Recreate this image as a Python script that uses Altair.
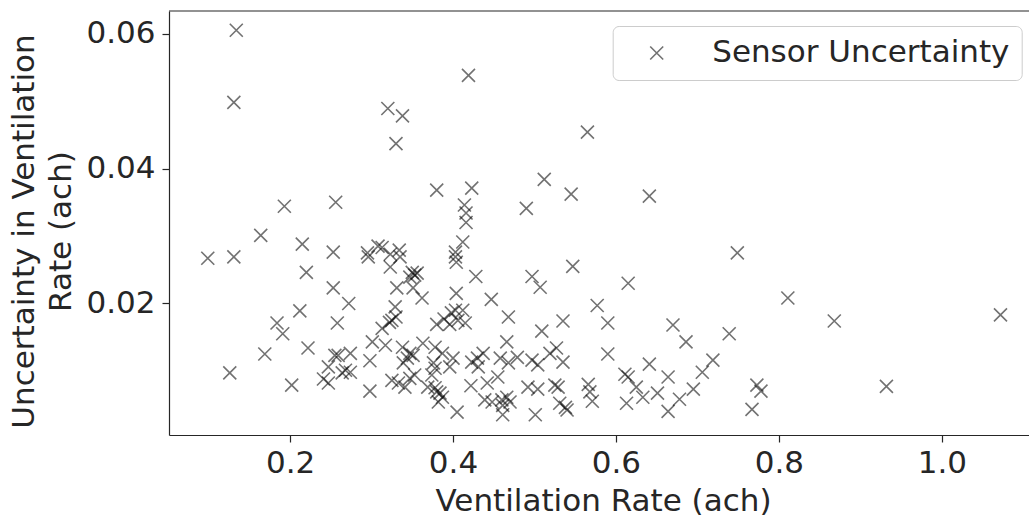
import altair as alt
import pandas as pd

# Ventilation rate (ach) and sensor uncertainty (ach)
vent_rate = [
    0.134, 0.131, 0.320, 0.338, 0.330, 0.380, 0.193, 0.256, 0.419, 0.565,
    0.512, 0.423, 0.545, 0.641, 0.490, 0.414, 0.416, 0.416, 0.412, 0.403,
    0.403, 0.404, 0.428, 0.404, 0.447, 0.497, 0.507, 0.547, 0.615, 0.749,
    0.811, 0.868, 1.072, 0.739, 0.773, 0.778, 0.767, 0.932, 0.577, 0.590,
    0.468, 0.535, 0.509, 0.670, 0.686, 0.590, 0.719, 0.706, 0.641, 0.664,
    0.695, 0.678, 0.664, 0.651, 0.633, 0.625, 0.611, 0.615, 0.613, 0.571,
    0.568, 0.566, 0.531, 0.538, 0.540, 0.525, 0.529, 0.535, 0.527, 0.519,
    0.497, 0.504, 0.492, 0.504, 0.501, 0.458, 0.468, 0.479, 0.466, 0.437,
    0.430, 0.431, 0.423, 0.455, 0.442, 0.422, 0.439, 0.448, 0.460, 0.466,
    0.470, 0.461, 0.461, 0.405,
    0.099, 0.131, 0.164, 0.215, 0.253, 0.220, 0.253, 0.272, 0.212, 0.184,
    0.191, 0.258, 0.222, 0.169, 0.126, 0.202, 0.241, 0.247, 0.247, 0.255,
    0.259, 0.274, 0.268, 0.274, 0.264, 0.298, 0.298, 0.301, 0.295, 0.296,
    0.308, 0.313, 0.323, 0.334, 0.335, 0.323, 0.331, 0.350, 0.353, 0.356,
    0.347, 0.351, 0.362, 0.329, 0.313, 0.322, 0.325, 0.330, 0.380, 0.389,
    0.398, 0.403, 0.412, 0.396, 0.415, 0.406, 0.317, 0.338, 0.347, 0.351,
    0.344, 0.339, 0.363, 0.378, 0.387, 0.400, 0.396, 0.376, 0.378, 0.374,
    0.353, 0.347, 0.325, 0.333, 0.341, 0.369, 0.378, 0.380, 0.384, 0.387,
    0.382,
]
uncertainty = [
    0.0605, 0.0498, 0.0489, 0.0478, 0.0437, 0.0368, 0.0344, 0.0350, 0.0538, 0.0454,
    0.0384, 0.0371, 0.0362, 0.0359, 0.0341, 0.0346, 0.0334, 0.0320, 0.0291, 0.0276,
    0.0269, 0.0261, 0.0240, 0.0215, 0.0206, 0.0240, 0.0224, 0.0255, 0.0230, 0.0275,
    0.0208, 0.0174, 0.0183, 0.0155, 0.0079, 0.0070, 0.0043, 0.0077, 0.0197, 0.0171,
    0.0180, 0.0174, 0.0159, 0.0168, 0.0143, 0.0125, 0.0116, 0.0098, 0.0110, 0.0091,
    0.0073, 0.0058, 0.0040, 0.0067, 0.0061, 0.0076, 0.0095, 0.0091, 0.0052, 0.0055,
    0.0069, 0.0080, 0.0052, 0.0046, 0.0042, 0.0079, 0.0076, 0.0113, 0.0134, 0.0126,
    0.0116, 0.0109, 0.0076, 0.0073, 0.0035, 0.0119, 0.0112, 0.0120, 0.0143, 0.0126,
    0.0119, 0.0106, 0.0113, 0.0091, 0.0082, 0.0078, 0.0057, 0.0054, 0.0057, 0.0061,
    0.0054, 0.0049, 0.0035, 0.0039,
    0.0267, 0.0269, 0.0301, 0.0288, 0.0276, 0.0246, 0.0223, 0.0200, 0.0189, 0.0171,
    0.0155, 0.0171, 0.0134, 0.0125, 0.0097, 0.0079, 0.0088, 0.0082, 0.0106, 0.0123,
    0.0123, 0.0126, 0.0101, 0.0098, 0.0097, 0.0115, 0.0070, 0.0143, 0.0275, 0.0269,
    0.0285, 0.0283, 0.0273, 0.0279, 0.0269, 0.0254, 0.0223, 0.0246, 0.0242, 0.0245,
    0.0239, 0.0223, 0.0208, 0.0195, 0.0163, 0.0172, 0.0175, 0.0180, 0.0169, 0.0177,
    0.0186, 0.0190, 0.0190, 0.0169, 0.0171, 0.0175, 0.0138, 0.0135, 0.0126, 0.0123,
    0.0119, 0.0112, 0.0141, 0.0135, 0.0126, 0.0119, 0.0106, 0.0112, 0.0104, 0.0094,
    0.0094, 0.0089, 0.0086, 0.0082, 0.0076, 0.0076, 0.0075, 0.0069, 0.0067, 0.0061,
    0.0054,
]
series_name = "Sensor Uncertainty"
x_ticks = [0.2, 0.4, 0.6, 0.8, 1.0]
y_ticks = [0.02, 0.04, 0.06]
x_title = "Ventilation Rate (ach)"
y_title = ["Uncertainty in Ventilation", "Rate (ach)"]

df = pd.DataFrame({
    "vent": vent_rate,
    "unc": uncertainty,
    "series": [series_name] * len(vent_rate),
})

XMARK = "M-1,-1L1,1M-1,1L1,-1"
FONT = "DejaVu Sans"
FS = 31
INK = "#262626"
W, H = 860, 424

x_scale = alt.Scale(domain=[0.0514, 1.107], nice=False, zero=False)
y_scale = alt.Scale(domain=[0.0005, 0.06335], nice=False, zero=False)

points = alt.Chart(df).mark_point(
    shape=XMARK, filled=False, size=169, strokeWidth=1.6, opacity=0.55
).encode(
    x=alt.X("vent:Q", scale=x_scale, axis=alt.Axis(
        values=x_ticks, format=".1f", title=x_title, grid=False,
        tickSize=7, labelPadding=30, labelBaseline="alphabetic",
        titleX=434, titleY=75, titleBaseline="alphabetic", titleAnchor="start",
        titleAlign="center",
    )),
    y=alt.Y("unc:Q", scale=y_scale, axis=alt.Axis(
        values=y_ticks, format=".2f", title=y_title, grid=False,
        tickSize=7, labelPadding=7,
        titleX=-136, titleY=220, titleBaseline="alphabetic", titleAngle=270,
        titleAlign="center", titleLineHeight=37, titleAnchor="start",
    )),
    color=alt.Color("series:N", scale=alt.Scale(range=["black"]), legend=alt.Legend(
        title="", orient="none", legendX=443.7, legendY=15, padding=11.5,
        cornerRadius=6, strokeColor="#cccccc", fillColor="white",
        symbolType=XMARK, symbolSize=169, symbolStrokeWidth=1.6,
        symbolOpacity=0.55, symbolStrokeColor="black", symbolFillColor="transparent",
        symbolOffset=17, labelOffset=40, labelFontSize=FS, labelFont=FONT,
        labelColor=INK, labelLimit=500,
    )),
)

# top spine of the axes frame (the right spine lies outside the cropped figure)
top_spine = alt.Chart(df.head(1)).mark_rule(color=INK, strokeWidth=1.2).encode(
    x=alt.value(0), x2=alt.value(W), y=alt.value(0),
)

chart = alt.layer(points, top_spine).properties(
    width=W, height=H,
    padding={"left": 169, "top": 11, "right": 0, "bottom": 83},
    autosize=alt.AutoSizeParams(type="none"),
    background="white",
).configure_view(
    strokeWidth=0,
).configure_axis(
    labelFont=FONT, titleFont=FONT, labelFontSize=FS, titleFontSize=FS,
    labelColor=INK, titleColor=INK, titleFontWeight="normal",
    domainColor=INK, tickColor=INK, domainWidth=1.2, tickWidth=1.2,
)

chart.save("out.html", embed_options={"renderer": "svg", "actions": False})
